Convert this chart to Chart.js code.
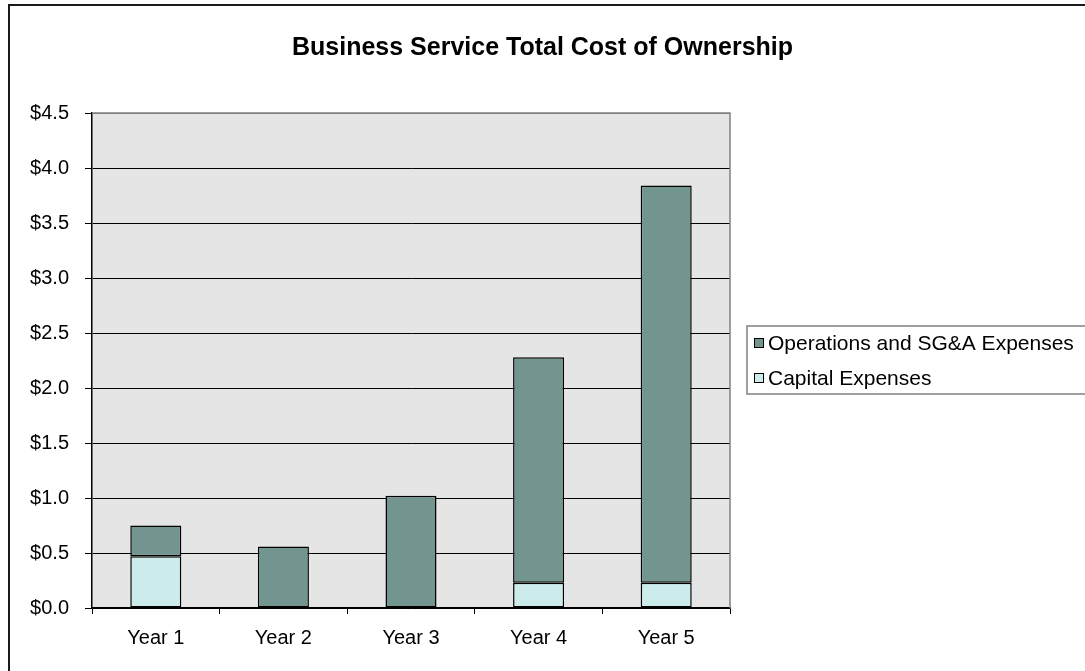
<!DOCTYPE html>
<html>
<head>
<meta charset="utf-8">
<script src="https://cdn.jsdelivr.net/npm/chart.js@4.4.1/dist/chart.umd.min.js"></script>
<style>
html,body{margin:0;padding:0;background:#fff;}
#wrap{position:relative;width:1085px;height:671px;}
</style>
</head>
<body>
<div id="wrap"><canvas id="c" width="1085" height="671"></canvas></div>
<script>
const categories = ["Year 1", "Year 2", "Year 3", "Year 4", "Year 5"];
const capitalExpenses = [0.47, 0, 0, 0.23, 0.23];
const operationsExpenses = [0.28, 0.56, 1.02, 2.05, 3.61];
const seriesNames = ["Capital Expenses", "Operations and SG&A Expenses"];
const chartTitle = "Business Service Total Cost of Ownership";
const yMin = 0, yMax = 4.5, yStep = 0.5;

const FONT = "'Liberation Sans', Arial, sans-serif";

const framePlugin = {
  id: 'frame',
  beforeDraw(chart) {
    const ctx = chart.ctx, a = chart.chartArea;
    ctx.save();
    ctx.fillStyle = '#ffffff';
    ctx.fillRect(0, 0, chart.width, chart.height);
    ctx.fillStyle = '#e5e5e5';
    ctx.fillRect(a.left, a.top, a.right - a.left, a.bottom - a.top);
    ctx.restore();
  },
  afterDraw(chart) {
    const ctx = chart.ctx, a = chart.chartArea;
    ctx.save();
    // outer frame
    ctx.strokeStyle = '#1a1a1a';
    ctx.lineWidth = 2;
    ctx.beginPath();
    ctx.moveTo(9, chart.height + 2);
    ctx.lineTo(9, 5);
    ctx.lineTo(chart.width + 2, 5);
    ctx.stroke();
    // plot border top/right (gray)
    ctx.strokeStyle = '#808080';
    ctx.lineWidth = 1.5;
    ctx.beginPath();
    ctx.moveTo(a.left, a.top);
    ctx.lineTo(a.right, a.top);
    ctx.lineTo(a.right, a.bottom);
    ctx.stroke();
    // legend
    const lx = 747, ly = 326, lw = 360, lh = 68;
    ctx.strokeStyle = '#808080';
    ctx.lineWidth = 1.5;
    ctx.strokeRect(lx, ly, lw, lh);
    const items = chart.data.datasets.slice().reverse();
    const rows = [343, 378];
    ctx.font = '21px ' + FONT;
    ctx.textBaseline = 'middle';
    items.forEach((ds, i) => {
      const y = rows[i];
      ctx.fillStyle = ds.backgroundColor;
      ctx.fillRect(754, y - 4.5, 9, 9);
      ctx.strokeStyle = '#000';
      ctx.lineWidth = 1;
      ctx.strokeRect(754.5, y - 4.5, 9, 9);
      ctx.fillStyle = '#000';
      ctx.fillText(ds.label, 768, y + 1);
    });
    ctx.restore();
  }
};

const bw = (c) => (c.raw === 0 || c.raw === null) ? 0 : 1.5;

new Chart(document.getElementById('c'), {
  type: 'bar',
  data: {
    labels: categories,
    datasets: [
      { label: seriesNames[0], data: capitalExpenses, backgroundColor: '#cceceb', borderColor: '#000', borderWidth: bw, borderSkipped: false },
      { label: seriesNames[1], data: operationsExpenses, backgroundColor: '#729590', borderColor: '#000', borderWidth: bw, borderSkipped: false }
    ]
  },
  plugins: [framePlugin],
  options: {
    responsive: false,
    animation: false,
    devicePixelRatio: 1,
    layout: { padding: { left: 0, right: 0, top: 0, bottom: 0 } },
    datasets: { bar: { barPercentage: 0.4, categoryPercentage: 1.0 } },
    plugins: {
      legend: { display: false },
      tooltip: { enabled: false },
      title: {
        display: true,
        text: chartTitle,
        color: '#000',
        font: { family: FONT, size: 25, weight: 'bold' },
        padding: { top: 33, bottom: 50 },
        align: 'center'
      }
    },
    scales: {
      x: {
        stacked: true,
        grid: { display: true, drawOnChartArea: false, drawTicks: true, tickLength: 6, color: '#000', offset: true },
        border: { display: true, color: '#000', width: 1.5 },
        ticks: { color: '#000', font: { family: FONT, size: 20 }, padding: 12, maxRotation: 0 },
        afterFit(scale) { scale.height = 63; }
      },
      y: {
        stacked: true,
        min: yMin, max: yMax,
        grid: {
          color: (c) => (c.tick && c.tick.value === yMax) ? '#808080' : '#000',
          tickColor: '#000',
          lineWidth: 1,
          drawTicks: true, tickLength: 7
        },
        border: { display: true, color: '#000', width: 1.5 },
        ticks: {
          stepSize: yStep, color: '#000', padding: 16,
          font: { family: FONT, size: 20 },
          callback: (v) => '$' + Number(v).toFixed(1)
        },
        afterFit(scale) { scale.width = 92; }
      },
      legendSpace: {
        type: 'linear',
        position: 'right',
        display: true,
        grid: { display: false, drawOnChartArea: false, drawTicks: false },
        border: { display: false },
        ticks: { display: false },
        afterFit(scale) { scale.width = 355; }
      }
    }
  }
});
</script>
</body>
</html>
